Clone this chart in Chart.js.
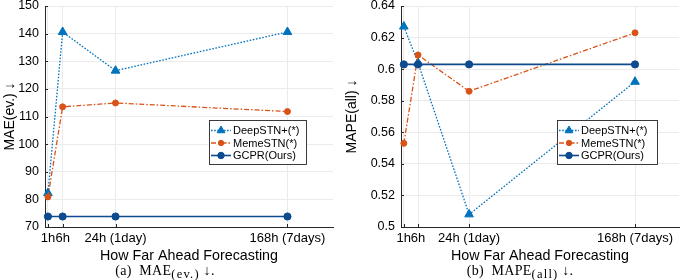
<!DOCTYPE html>
<html><head><meta charset="utf-8">
<script src="https://cdn.jsdelivr.net/npm/chart.js@4/dist/chart.umd.min.js"></script>
<style>
html,body{margin:0;padding:0;background:#fff;}
body{width:685px;height:280px;overflow:hidden;position:relative;font-family:"Liberation Sans",Arial,sans-serif;}
.wrap{position:absolute;top:0;}
.cap{position:absolute;top:263px;font-family:"Liberation Serif","DejaVu Serif",serif;font-size:14px;line-height:16px;white-space:nowrap;transform:translateX(-50%);color:#000;letter-spacing:0.3px;}
.cap sub{font-size:12.5px;vertical-align:-3px;line-height:0;letter-spacing:1.2px;}
</style></head><body>
<div class="wrap" style="left:0;"><canvas id="c1" width="340" height="265"></canvas></div>
<div class="wrap" style="left:340px;"><canvas id="c2" width="345" height="265"></canvas></div>
<div class="cap" style="left:165px">(a)&nbsp; MAE<sub>(ev.)</sub>&nbsp;↓.</div>
<div class="cap" style="left:520px">(b)&nbsp; MAPE<sub>(all)</sub>&nbsp;↓.</div>
<script>
// ---- data ----
const categories = ['1h', '6h', '24h (1day)', '168h (7days)'];
// horizontal-axis values at which the reference plots each horizon
const xPlot = [1, 6, 24, 82.5];
const seriesNames = ['DeepSTN+(*)', 'MemeSTN(*)', 'GCPR(Ours)'];
const maeDeepSTN = [82.3, 140.6, 126.6, 140.6];
const maeMemeSTN = [80.9, 113.5, 114.9, 111.8];
const maeGCPR = [73.8, 73.8, 73.8, 73.8];
const mapeDeepSTN = [0.627, 0.604, 0.508, 0.592];
const mapeMemeSTN = [0.553, 0.609, 0.586, 0.623];
const mapeGCPR = [0.603, 0.603, 0.603, 0.603];
const maeTicks = [70, 80, 90, 100, 110, 120, 130, 140, 150];
const mapeTicks = [0.5, 0.52, 0.54, 0.56, 0.58, 0.6, 0.62, 0.64];

// ---- styles ----
const FONT = '"Liberation Sans", Arial, sans-serif';
const AXIS = '#262626';
const GRID = '#ebebeb';
const styles = [
  {color: '#0072BD', dash: [1.6, 1.6], width: 1.3, point: 'triangle', radius: 5, order: 2},
  {color: '#D95319', dash: [5, 2, 1.5, 2], width: 1.3, point: 'circle', radius: 3, order: 1},
  {color: '#0E4A8E', dash: [], width: 1.6, point: 'circle', radius: 3.6, order: 0}
];

function makeDatasets(arrs) {
  return arrs.map((arr, k) => ({
    label: seriesNames[k],
    data: arr.map((v, i) => ({x: xPlot[i], y: v})),
    borderColor: styles[k].color,
    backgroundColor: styles[k].color,
    borderWidth: styles[k].width,
    borderDash: styles[k].dash,
    pointStyle: styles[k].point,
    pointRadius: styles[k].radius,
    pointBorderWidth: 1,
    pointBackgroundColor: styles[k].color,
    pointBorderColor: styles[k].color,
    order: styles[k].order,
    clip: false,
    tension: 0
  }));
}

const inwardTicks = {
  id: 'inwardTicks',
  beforeDatasetsDraw(chart) {
    const ctx = chart.ctx, a = chart.chartArea;
    ctx.save();
    ctx.strokeStyle = AXIS; ctx.lineWidth = 1; ctx.setLineDash([]);
    ctx.beginPath();
    chart.scales.y.ticks.forEach(t => {
      const y = Math.round(chart.scales.y.getPixelForValue(t.value)) + 0.5;
      ctx.moveTo(a.left, y); ctx.lineTo(a.left + 3, y);
    });
    chart.scales.x.ticks.forEach(t => {
      const x = Math.round(chart.scales.x.getPixelForValue(t.value)) + 0.5;
      ctx.moveTo(x, a.bottom); ctx.lineTo(x, a.bottom - 3);
    });
    ctx.stroke();
    ctx.restore();
  }
};

const boxLegend = {
  id: 'boxLegend',
  afterDraw(chart, args, opts) {
    const ctx = chart.ctx, a = chart.chartArea;
    const w = opts.width, h = 44;
    const bx = a.right - opts.offRight - w, by = a.bottom - opts.offBottom - h;
    ctx.save();
    ctx.setLineDash([]);
    ctx.fillStyle = '#fff';
    ctx.fillRect(bx, by, w, h);
    ctx.strokeStyle = AXIS; ctx.lineWidth = 0.9;
    ctx.strokeRect(bx + 0.5, by + 0.5, w, h);
    const rows = [10.5, 23, 35.5];
    chart.data.datasets.forEach((ds, k) => {
      const y = by + rows[k];
      ctx.strokeStyle = ds.borderColor; ctx.lineWidth = ds.borderWidth;
      ctx.setLineDash(ds.borderDash);
      ctx.beginPath(); ctx.moveTo(bx + 2, y); ctx.lineTo(bx + 22, y); ctx.stroke();
      ctx.setLineDash([]);
      ctx.fillStyle = ds.borderColor; ctx.strokeStyle = ds.borderColor; ctx.lineWidth = 1;
      Chart.helpers.drawPoint(ctx, {pointStyle: ds.pointStyle, radius: ds.pointRadius * 0.9, rotation: 0, borderWidth: 1}, bx + 12, y);
      ctx.fillStyle = '#000';
      ctx.font = '11px ' + FONT;
      ctx.textBaseline = 'middle'; ctx.textAlign = 'left';
      ctx.fillText(ds.label, bx + 24, y + 0.5);
    });
    ctx.restore();
  }
};

function makeChart(id, arrs, yTicks, yTitle, yWidth, yTitlePad, padRight, legendOpts, fmt) {
  new Chart(document.getElementById(id), {
    type: 'line',
    data: {datasets: makeDatasets(arrs)},
    options: {
      responsive: false,
      animation: false,
      layout: {padding: {top: 6, right: padRight, left: 0, bottom: 0}},
      plugins: {legend: {display: false}, tooltip: {enabled: false}, boxLegend: legendOpts},
      scales: {
        x: {
          type: 'linear', min: 0, max: 98,
          afterBuildTicks: s => { s.ticks = xPlot.map(v => ({value: v})); },
          afterFit: s => { s.height = 38; s.paddingLeft = 0; s.paddingRight = 0; },
          grid: {color: GRID, drawTicks: false},
          border: {color: AXIS, width: 1},
          ticks: {
            autoSkip: false, maxRotation: 0, minRotation: 0, padding: 4,
            color: '#000', font: {family: FONT, size: 13},
            callback: v => categories[xPlot.indexOf(v)]
          },
          title: {display: true, text: 'How Far Ahead Forecasting', color: '#000',
                  font: {family: FONT, size: 14.3}, padding: {top: 0, bottom: 0}}
        },
        y: {
          min: yTicks[0], max: yTicks[yTicks.length - 1],
          afterBuildTicks: s => { s.ticks = yTicks.map(v => ({value: v})); },
          afterFit: s => { s.width = yWidth; s.paddingTop = 0; s.paddingBottom = 0; },
          grid: {color: GRID, drawTicks: false},
          border: {color: AXIS, width: 1},
          ticks: {padding: 6, color: '#000', font: {family: FONT, size: 12.5}, callback: fmt},
          title: {display: true, text: yTitle, color: '#000',
                  font: {family: FONT, size: 14}, padding: {top: yTitlePad, bottom: 0}}
        }
      }
    },
    plugins: [inwardTicks, boxLegend]
  });
}

makeChart('c1', [maeDeepSTN, maeMemeSTN, maeGCPR], maeTicks, 'MAE(ev.) ↓', 45, 2, 7,
  {width: 97, offRight: 27, offBottom: 63}, v => String(v));
makeChart('c2', [mapeDeepSTN, mapeMemeSTN, mapeGCPR], mapeTicks, 'MAPE(all) ↓', 61, 4, 0,
  {width: 100, offRight: 22, offBottom: 63}, v => String(+(+v).toFixed(2)));
</script>
</body></html>
